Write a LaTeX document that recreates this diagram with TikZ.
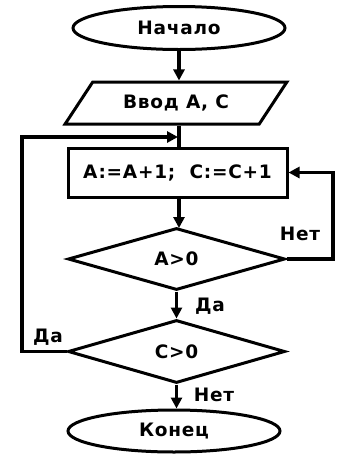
\documentclass[tikz,border=0pt]{standalone}
\usepackage{fontspec}
\setmainfont{DejaVu Sans}[BoldFont={DejaVu Sans Bold},BoldFeatures={LetterSpace=4}]
\usetikzlibrary{shapes.geometric,arrows.meta}
\begin{document}
\begin{tikzpicture}[x=1pt,y=-1pt,
  font=\bfseries\fontsize{18.5}{20}\selectfont,
  blk/.style={draw=black,line width=3pt,inner sep=0pt},
  term/.style={blk,ellipse},
  io/.style={blk,trapezium,trapezium left angle=43,trapezium right angle=137,trapezium stretches=true},
  proc/.style={blk,rectangle},
  cond/.style={blk,diamond},
  conn/.style={line width=3.6pt,-{Triangle[length=11pt,width=11pt]}},
  lbl/.style={inner sep=0pt}]
  \useasboundingbox (0,0) rectangle (338,456);
  % blocks
  \node[term,minimum width=212pt,minimum height=43pt] (start) at (179,28) {Начало};
  \node[io,minimum width=222pt,minimum height=42pt] (input) at (176,103) {Ввод А, С};
  \node[proc,minimum width=219pt,minimum height=49pt] (box) at (177.5,172.5) {A:=A+1;~~C:=C+1};
  \node[cond,minimum width=217pt,minimum height=62pt] (a1) at (176.5,259) {A>0};
  \node[cond,minimum width=217pt,minimum height=63pt] (c1) at (176.5,351.5) {C>0};
  \node[term,minimum width=212pt,minimum height=42pt] (stop) at (174,431) {Конец};
  % helper coordinates for loop lines
  \coordinate (lx) at (22,0);
  \coordinate (rx) at (333,0);
  \coordinate (join) at (179,137);
  % connectors
  \draw[conn] (start.south) -- (start.south |- input.north);
  \draw[line width=3.6pt] (start.south |- input.south) -- (start.south |- box.north);
  \draw[conn] (179,197) -- (179,228);
  \draw[conn] (a1.south) -- (c1.north);
  \draw[conn] (c1.south) -- (c1.south |- stop.north);
  \draw[conn] (a1.east) -- (a1.east -| rx) |- (box.east);
  \draw[conn,shorten >=1pt] (c1.west) -- (c1.west -| lx) |- (join);
  % branch labels
  \node[lbl] (l1) at (300,234) {Нет};
  \node[lbl] (l2) at (210,306) {Да};
  \node[lbl] (l3) at (48,337) {Да};
  \node[lbl] (l4) at (214,395) {Нет};
\end{tikzpicture}
\end{document}
